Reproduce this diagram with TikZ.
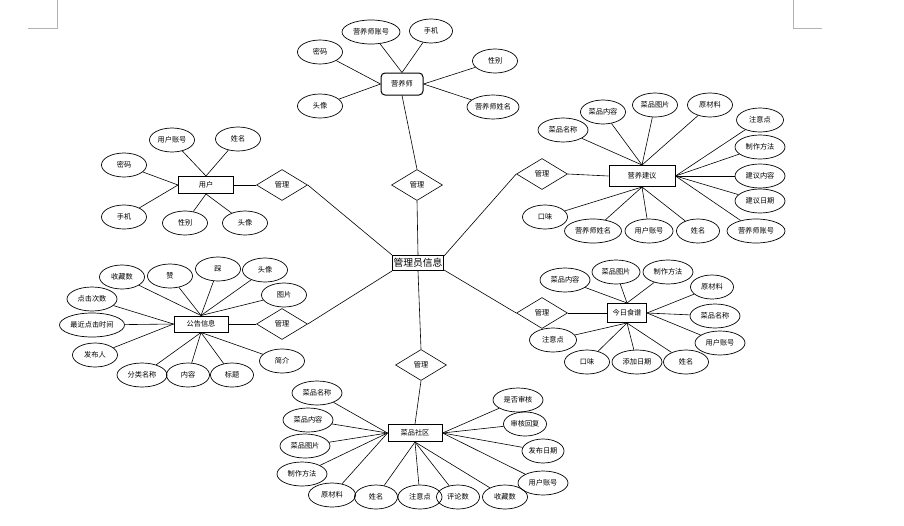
\documentclass[tikz,border=0pt]{standalone}
\usepackage{fontspec}
\newfontfamily\cjk{Noto Sans CJK SC}
\usetikzlibrary{shapes.geometric}
\tikzset{
  att/.style={ellipse, draw, line width=0.7pt, minimum width=#1, minimum height=24, inner sep=0pt, font=\cjk\fontsize{7.2}{8}\selectfont},
  att/.default=45,
  rel/.style={diamond, draw, line width=0.6pt, minimum width=51, minimum height=31, inner sep=0pt, font=\cjk\fontsize{7.2}{8}\selectfont},
  ent/.style={rectangle, draw, line width=1pt, minimum width=#1, minimum height=17, inner sep=0pt, font=\cjk\fontsize{7.2}{8}\selectfont},
  link/.style={line width=0.6pt}
}
\begin{document}
\begin{tikzpicture}[x=1pt,y=-1pt]
\useasboundingbox (0,0) rectangle (904,525);
% page corner marks
\draw[black!30, line width=0.6pt] (28,28) -- (57,28) -- (57,0);
\draw[black!30, line width=0.6pt] (793,0) -- (793,28) -- (822,28);

% central
\node[draw, line width=0.9pt, minimum width=51, minimum height=15, inner sep=0.8pt, font=\cjk\fontsize{9.8}{11}\selectfont] (admin) at (418,263) {管理员信息};

% relations
\node[rel] (m1) at (417,185) {管理};
\node[rel] (m2) at (282,185) {管理};
\node[rel] (m3) at (282,324) {管理};
\node[rel] (m4) at (421,365) {管理};
\node[rel] (m5) at (542,174) {管理};
\node[rel] (m6) at (542,313) {管理};

% entities
\node[ent=42, minimum height=22, rounded corners=4pt] (yys) at (402,84) {营养师};
\node[ent=55] (yh) at (206,185) {用户};
\node[ent=66, minimum height=21] (jy) at (642,176) {营养建议};
\node[ent=54, minimum height=16] (gg) at (201,324) {公告信息};
\node[ent=39, minimum height=19] (sp) at (627,313) {今日食谱};
\node[ent=54] (sq) at (415,433) {菜品社区};

% central links
\draw[link] (admin.north) -- (m1.south);
\draw[link] (m1.north) -- (yys.south);
\draw[link] (admin.north west) -- (m2.east);
\draw[link] (m2.west) -- (yh.east);
\draw[link] (admin.south west) -- (m3.east);
\draw[link] (m3.west) -- (gg.east);
\draw[link] (admin.south) -- (m4.north);
\draw[link] (m4.south) -- (sq.north);
\draw[link] (admin.15) -- (m5.west);
\draw[link] (m5.east) -- (jy.west);
\draw[link] (admin.-15) -- (m6.west);
\draw[link] (m6.east) -- (sp.west);

% 营养师 attributes
\node[att=58] (y1) at (371,32) {营养师账号};
\node[att=43] (y2) at (431,31) {手机};
\node[att] (y3) at (320,52) {密码};
\node[att] (y4) at (320,106) {头像};
\node[att] (y5) at (495,61) {性别};
\node[att=52] (y6) at (493,107) {营养师姓名};
\foreach \a in {y1,y2} \draw[link] (\a) -- (yys.north);
\foreach \a in {y3,y4} \draw[link] (\a) -- (yys.west);
\foreach \a in {y5,y6} \draw[link] (\a) -- (yys.east);

% 用户 attributes
\node[att] (u1) at (172,140) {用户账号};
\node[att] (u2) at (238,139) {姓名};
\node[att] (u3) at (124,165) {密码};
\node[att] (u4) at (124,217) {手机};
\node[att] (u5) at (185,223) {性别};
\node[att] (u6) at (245,223) {头像};
\foreach \a in {u1,u2} \draw[link] (\a) -- (yh.north);
\foreach \a in {u3,u4} \draw[link] (\a) -- (yh.west);
\foreach \a in {u5,u6} \draw[link] (\a) -- (yh.south);

% 营养建议 attributes
\node[att=50] (j1) at (563,130) {菜品名称};
\node[att] (j2) at (603,112) {菜品内容};
\node[att] (j3) at (655,105) {菜品图片};
\node[att] (j4) at (710,105) {原材料};
\node[att=47] (j5) at (760,120) {注意点};
\node[att=50] (j6) at (760,147) {制作方法};
\node[att=50] (j7) at (760,176) {建议内容};
\node[att=50] (j8) at (760,201) {建议日期};
\node[att=58] (j9) at (756,231) {营养师账号};
\node[att=43] (j10) at (698,231) {姓名};
\node[att=48] (j11) at (649,231) {用户账号};
\node[att=57] (j12) at (593,231) {营养师姓名};
\node[att] (j13) at (545,217) {口味};
\foreach \a in {j1,j2,j3,j4} \draw[link] (\a) -- (jy.north);
\foreach \a in {j5,j6,j7,j8,j9} \draw[link] (\a) -- (jy.east);
\foreach \a in {j10,j11,j12,j13} \draw[link] (\a) -- (jy.south);

% 公告信息 attributes
\node[att] (g1) at (122,277) {收藏数};
\node[att] (g2) at (170,276) {赞};
\node[att] (g3) at (218,269) {踩};
\node[att] (g4) at (265,270) {头像};
\node[att] (g5) at (284,295) {图片};
\node[att=50] (g6) at (92,299) {点击次数};
\node[att=65] (g7) at (92,325) {最近点击时间};
\node[att] (g8) at (95,355) {发布人};
\node[att=50] (g9) at (142,375) {分类名称};
\node[att=43] (g10) at (188,375) {内容};
\node[att=43] (g11) at (232,375) {标题};
\node[att] (g12) at (282,361) {简介};
\foreach \a in {g1,g2,g3,g4,g5} \draw[link] (\a) -- (gg.north);
\foreach \a in {g6,g7,g8} \draw[link] (\a) -- (gg.west);
\foreach \a in {g9,g10,g11,g12} \draw[link] (\a) -- (gg.south);

% 今日食谱 attributes
\node[att=50] (s1) at (565,280) {菜品内容};
\node[att=48] (s2) at (616,272) {菜品图片};
\node[att=50] (s3) at (668,272) {制作方法};
\node[att=43] (s4) at (712,287) {原材料};
\node[att=50] (s5) at (715,316) {菜品名称};
\node[att=50] (s6) at (720,343) {用户账号};
\node[att] (s7) at (686,362) {姓名};
\node[att=50] (s8) at (637,362) {添加日期};
\node[att] (s9) at (587,362) {口味};
\node[att=47] (s10) at (553,340) {注意点};
\foreach \a in {s1,s2,s3} \draw[link] (\a) -- (sp.north);
\foreach \a in {s4,s5,s6} \draw[link] (\a) -- (sp.east);
\foreach \a in {s7,s8,s9,s10} \draw[link] (\a) -- (sp.south);

% 菜品社区 attributes
\node[att=50] (c1) at (317,393) {菜品名称};
\node[att=50] (c2) at (308,420) {菜品内容};
\node[att=50] (c3) at (305,446) {菜品图片};
\node[att=50] (c4) at (302,474) {制作方法};
\node[att=47] (c5) at (332,495) {原材料};
\node[att=43] (c6) at (376,497) {姓名};
\node[att=44] (c7) at (420,497) {注意点};
\node[att=43] (c8) at (458,497) {评论数};
\node[att] (c9) at (505,497) {收藏数};
\node[att=50] (c10) at (543,483) {用户账号};
\node[att=42] (c11) at (543,451) {发布日期};
\node[att=43] (c12) at (525,424) {审核回复};
\node[att=50] (c13) at (518,400) {是否审核};
\foreach \a in {c1,c2,c3,c4,c5} \draw[link] (\a) -- (sq.west);
\foreach \a in {c6,c7,c8,c9} \draw[link] (\a) -- (sq.south);
\foreach \a in {c10,c11,c12,c13} \draw[link] (\a) -- (sq.east);
\end{tikzpicture}
\end{document}
